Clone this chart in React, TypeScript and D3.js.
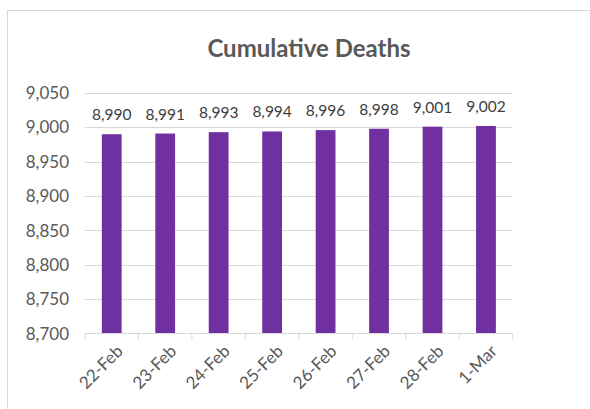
import React from "react";
import * as d3 from "d3";

const categories = ["22-Feb", "23-Feb", "24-Feb", "25-Feb", "26-Feb", "27-Feb", "28-Feb", "1-Mar"];
const deaths = [8990, 8991, 8993, 8994, 8996, 8998, 9001, 9002];
const yTicks = [8700, 8750, 8800, 8850, 8900, 8950, 9000, 9050];
const title = "Cumulative Deaths";

const W = 590;
const H = 409;
const FONT = "Lato, 'Open Sans', sans-serif";

export default function App() {
  const x = d3
    .scaleBand<string>()
    .domain(categories)
    .range([85, 512.7])
    .paddingInner(0.63)
    .paddingOuter(0.315);
  const y = d3.scaleLinear().domain([8700, 9050]).range([333.5, 93]);
  const fmt = d3.format(",");
  const step = x.step();
  const x0 = 85;
  const tickXs = d3.range(categories.length + 1).map((i) => x0 + i * step);

  return (
    <svg
      width={W}
      height={H}
      style={{ position: "absolute", left: 0, top: 0, background: "#fff" }}
      fontFamily={FONT}
    >
      <rect x={7.5} y={10.5} width={W + 10} height={H + 10} fill="#fff" stroke="#d9d9d9" strokeWidth={1} />
      <text x={309} y={57} textAnchor="middle" fontSize={24} fontWeight="bold" fill="#595959">
        {title}
      </text>
      {yTicks.map((t) => (
        <g key={t}>
          {t !== 8700 && (
            <line x1={85} x2={512.7} y1={Math.round(y(t)) + 0.5} y2={Math.round(y(t)) + 0.5} stroke="#d9d9d9" strokeWidth={1} />
          )}
          <text x={69} y={y(t)} dy="0.36em" textAnchor="end" fontSize={17} fill="#595959">
            {fmt(t)}
          </text>
        </g>
      ))}
      {categories.map((c, i) => (
        <rect
          key={c}
          x={x(c)}
          y={y(deaths[i])}
          width={x.bandwidth()}
          height={y(8700) - y(deaths[i])}
          fill="#7030a0"
        />
      ))}
      <line x1={85} x2={512.7} y1={333.5} y2={333.5} stroke="#d9d9d9" strokeWidth={1} />
      {tickXs.map((tx, i) => (
        <line key={i} x1={tx} x2={tx} y1={333.5} y2={339.5} stroke="#d9d9d9" strokeWidth={1} />
      ))}
      {categories.map((c, i) => (
        <text
          key={c}
          x={(x(c) as number) + x.bandwidth() / 2}
          y={y(deaths[i]) - 14}
          textAnchor="middle"
          fontSize={15.5}
          fill="#404040"
        >
          {fmt(deaths[i])}
        </text>
      ))}
      {categories.map((c) => {
        const cx = (x(c) as number) + x.bandwidth() / 2;
        return (
          <text
            key={c}
            transform={`translate(${cx + 8},${348}) rotate(-45)`}
            textAnchor="end"
            dy="0.35em"
            fontSize={17}
            fill="#595959"
          >
            {c}
          </text>
        );
      })}
    </svg>
  );
}
